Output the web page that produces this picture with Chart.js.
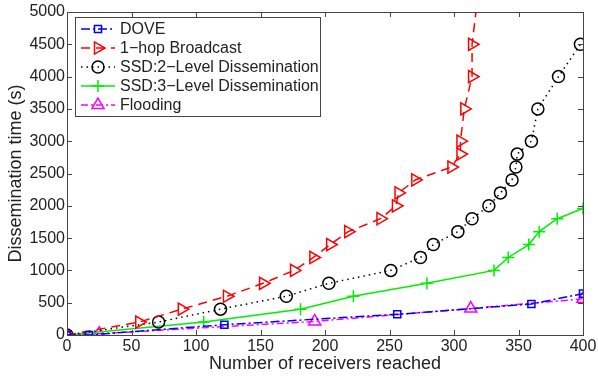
<!DOCTYPE html>
<html>
<head>
<meta charset="utf-8">
<script src="https://cdn.jsdelivr.net/npm/chart.js@4.4.0/dist/chart.umd.min.js"></script>
<style>
  html, body { margin: 0; padding: 0; background: #fff; }
  #wrap { width: 598px; height: 381px; }
</style>
</head>
<body>
<div id="wrap"><canvas id="chart" width="598" height="381"></canvas></div>
<script>
// values
var seriesNames = ["DOVE", "1\u2212hop Broadcast", "SSD:2\u2212Level Dissemination", "SSD:3\u2212Level Dissemination", "Flooding"];

var doveX = [0, 17, 122, 256, 360, 400];
var doveY = [0, 0, 160, 320, 480, 640];

var hopX = [0, 56, 89, 124, 152, 176, 191, 204, 218, 243, 255, 257, 270, 298, 305, 305, 308, 314, 314, 320];
var hopY = [0, 200, 400, 600, 800, 1000, 1200, 1400, 1600, 1800, 2000, 2200, 2400, 2600, 2800, 3000, 3500, 4000, 4500, 5500];

var ssd2X = [0, 71, 119, 170, 203, 251, 274, 284, 303, 314, 327, 336, 345, 348, 349, 360, 365, 381, 398];
var ssd2Y = [0, 200, 400, 600, 800, 1000, 1200, 1400, 1600, 1800, 2000, 2200, 2400, 2600, 2800, 3000, 3500, 4000, 4500];

var ssd3X = [0, 106, 181, 222, 279, 331, 342, 358, 366, 380, 400];
var ssd3Y = [0, 200, 400, 600, 800, 1000, 1200, 1400, 1600, 1800, 1960];

var floodX = [0, 25, 192, 313, 400];
var floodY = [0, 20, 210, 410, 560];

var xTicks = [0, 50, 100, 150, 200, 250, 300, 350, 400];
var yTicks = [0, 500, 1000, 1500, 2000, 2500, 3000, 3500, 4000, 4500, 5000];

function pts(xs, ys) {
  return xs.map(function (x, i) { return { x: x, y: ys[i] }; });
}

var font = "'Liberation Sans', Arial, Helvetica, sans-serif";

// matlab style box with inward ticks + legend inside the axes
var boxPlugin = {
  id: 'box',
  afterDraw: function (chart) {
    var ctx = chart.ctx, a = chart.chartArea;
    var xs = chart.scales.x, ys = chart.scales.y;
    ctx.save();
    ctx.strokeStyle = '#444';
    ctx.lineWidth = 1;
    ctx.strokeRect(Math.round(a.left) + 0.5, Math.round(a.top) + 0.5,
      Math.round(a.right - a.left), Math.round(a.bottom - a.top));
    ctx.beginPath();
    xTicks.forEach(function (v) {
      var p = Math.round(xs.getPixelForValue(v)) + 0.5;
      ctx.moveTo(p, a.bottom); ctx.lineTo(p, a.bottom - 5);
      ctx.moveTo(p, a.top); ctx.lineTo(p, a.top + 5);
    });
    yTicks.forEach(function (v) {
      var p = Math.round(ys.getPixelForValue(v)) + 0.5;
      ctx.moveTo(a.left, p); ctx.lineTo(a.left + 5, p);
      ctx.moveTo(a.right, p); ctx.lineTo(a.right - 5, p);
    });
    ctx.stroke();

    var lx = 75, ly = 17, lw = 245, lh = 99;
    ctx.fillStyle = '#fff';
    ctx.fillRect(lx, ly, lw, lh);
    ctx.strokeStyle = '#444';
    ctx.strokeRect(lx + 0.5, ly + 0.5, lw, lh);
    ctx.font = '16px ' + font;
    ctx.textBaseline = 'middle';
    chart.data.datasets.forEach(function (ds, i) {
      var y = ly + 12 + i * 19;
      ctx.save();
      ctx.strokeStyle = ds.borderColor;
      ctx.fillStyle = 'rgba(0,0,0,0)';
      ctx.lineWidth = ds.borderWidth;
      ctx.setLineDash(ds.borderDash || []);
      ctx.beginPath();
      ctx.moveTo(81, y); ctx.lineTo(115, y);
      ctx.stroke();
      ctx.setLineDash([]);
      ctx.lineWidth = 1.5;
      Chart.helpers.drawPoint(ctx, {
        pointStyle: ds.pointStyle, radius: ds.pointRadius, rotation: ds.pointRotation || 0, borderWidth: 1.5
      }, 98, y);
      ctx.restore();
      ctx.fillStyle = '#222';
      ctx.fillText(ds.label, 120, y + 1);
    });
    ctx.restore();
  }
};

function makeSet(label, data, color, dash, style, radius, rot) {
  return {
    label: label,
    data: data,
    borderColor: color,
    borderWidth: 1.5,
    borderDash: dash,
    pointStyle: style,
    pointRadius: radius,
    pointRotation: rot,
    pointBorderColor: color,
    pointBackgroundColor: 'rgba(0,0,0,0)',
    pointBorderWidth: 1.5,
    tension: 0,
    fill: false
  };
}

new Chart(document.getElementById('chart'), {
  type: 'line',
  data: {
    datasets: [
      makeSet(seriesNames[0], pts(doveX, doveY), '#0000ff', [9, 3, 2, 3], 'rect', 5, 0),
      makeSet(seriesNames[1], pts(hopX, hopY), '#ff0000', [9, 6], 'triangle', 7, 90),
      makeSet(seriesNames[2], pts(ssd2X, ssd2Y), '#000000', [1.5, 4], 'circle', 6, 0),
      makeSet(seriesNames[3], pts(ssd3X, ssd3Y), '#00ee00', [], 'cross', 6, 0),
      makeSet(seriesNames[4], pts(floodX, floodY), '#ff00ff', [7, 3, 2, 3], 'triangle', 7, 0)
    ]
  },
  options: {
    responsive: false,
    animation: false,
    devicePixelRatio: 1,
    layout: { padding: { top: 12, right: 15, left: 5, bottom: 6 } },
    plugins: { legend: { display: false }, tooltip: { enabled: false } },
    scales: {
      x: {
        type: 'linear', min: 0, max: 400,
        afterFit: function (s) { s.height = 40; s.paddingLeft = 0; s.paddingRight = 0; },
        afterBuildTicks: function (s) { s.ticks = xTicks.map(function (v) { return { value: v }; }); },
        grid: { display: false, drawTicks: false },
        border: { display: false },
        ticks: { padding: 2, color: '#222', font: { family: font, size: 16 } },
        title: { display: true, text: 'Number of receivers reached', color: '#222', padding: 0, font: { family: font, size: 18 } }
      },
      y: {
        min: 0, max: 5000,
        afterFit: function (s) { s.width = 62; s.paddingTop = 0; s.paddingBottom = 0; },
        afterBuildTicks: function (s) { s.ticks = yTicks.map(function (v) { return { value: v }; }); },
        grid: { display: false, drawTicks: false },
        border: { display: false },
        ticks: { padding: 2, color: '#222', font: { family: font, size: 16 }, callback: function (v) { return String(v); } },
        title: { display: true, text: 'Dissemination time (s)', color: '#222', padding: 0, font: { family: font, size: 18 } }
      }
    }
  },
  plugins: [boxPlugin]
});
</script>
</body>
</html>
